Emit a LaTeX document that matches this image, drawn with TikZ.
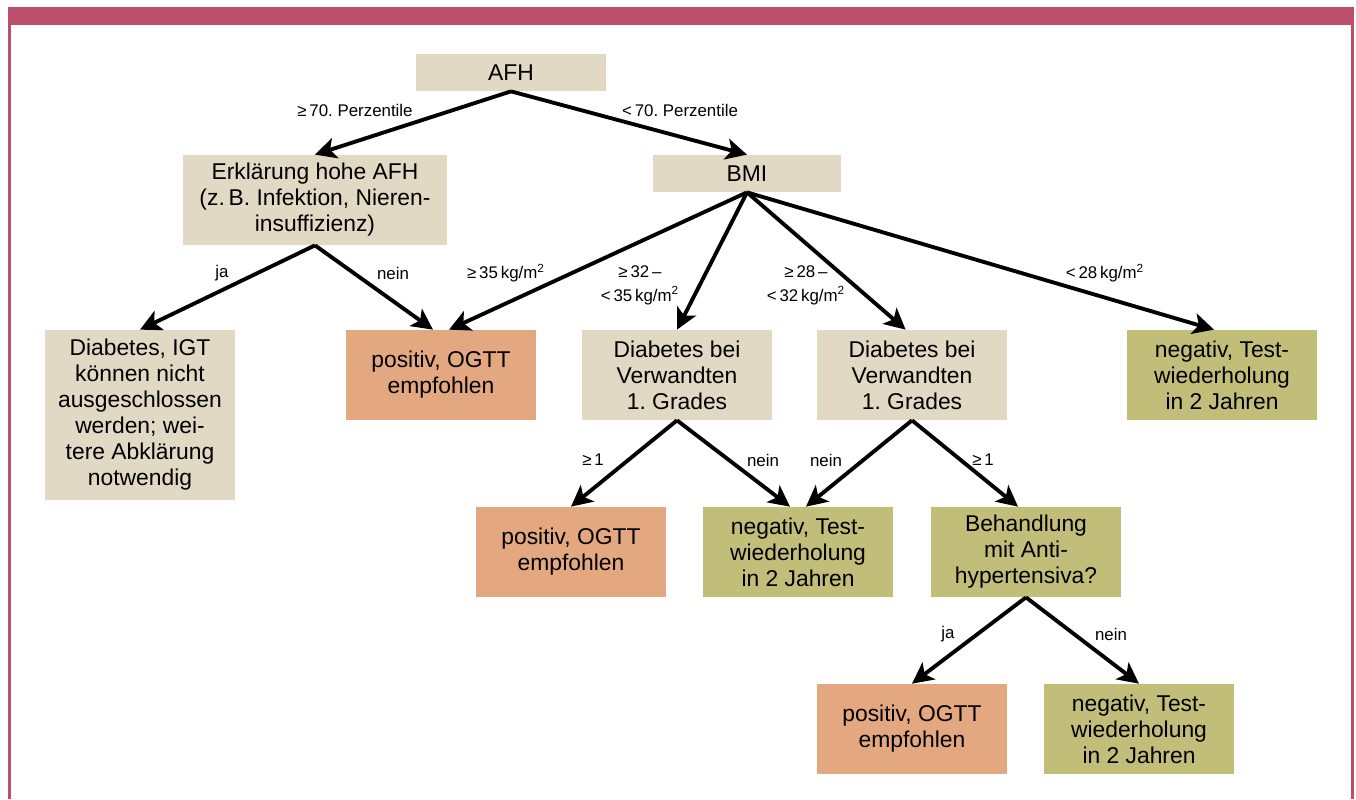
\documentclass[tikz,border=0pt]{standalone}
\usepackage{fontspec}
\setmainfont{Liberation Sans}
\usetikzlibrary{arrows.meta}
\definecolor{rahmen}{RGB}{188,79,107}
\definecolor{beige}{RGB}{226,217,196}
\definecolor{lachs}{RGB}{228,168,128}
\definecolor{oliv}{RGB}{194,190,122}
\tikzset{
  box/.style={align=center, inner sep=2pt, minimum width=3.8cm, minimum height=1.8cm,
    font=\fontsize{13}{14.8}\selectfont},
  frage/.style={box, fill=beige},
  posbox/.style={box, fill=lachs},
  negbox/.style={box, fill=oliv},
  lab/.style={font=\fontsize{9.6}{13.5}\selectfont, align=center, inner sep=1pt},
  pfeil/.style={line width=2.2pt, -{Stealth[length=12pt,width=12pt,inset=3pt]}}
}
\begin{document}
\begin{tikzpicture}[x=0.02cm,y=-0.02cm]
  \useasboundingbox (0,0) rectangle (1356,799);
  % Rahmen
  \fill[rahmen] (8,7) rectangle (1354,25);
  \fill[rahmen] (8,25) rectangle (11,799);
  \fill[rahmen] (1351,25) rectangle (1354,799);

  \node[frage, minimum height=0.74cm] (afh) at (511,72.5) {AFH};
  \node[frage, minimum width=5.28cm] (erk) at (315,200) {Erklärung hohe AFH\\(z.\,B. Infektion, Nieren-\\insuffizienz)};
  \node[frage, minimum width=3.76cm, minimum height=0.74cm] (bmi) at (747,173.5) {BMI};

  \node[frage, minimum height=3.4cm] (igt) at (140,415) {Diabetes, IGT\\können nicht\\ausgeschlossen\\werden; wei-\\tere Abklärung\\notwendig};
  \node[posbox] (pos1) at (441,375) {positiv, OGTT\\empfohlen};
  \node[frage] (dia1) at (677,375) {Diabetes bei\\Verwandten\\1.\ Grades};
  \node[frage] (dia2) at (912,375) {Diabetes bei\\Verwandten\\1.\ Grades};
  \node[negbox] (neg1) at (1222,375) {negativ, Test-\\wiederholung\\in 2 Jahren};

  \node[posbox] (pos2) at (571,552) {positiv, OGTT\\empfohlen};
  \node[negbox] (neg2) at (798,552) {negativ, Test-\\wiederholung\\in 2 Jahren};
  \node[negbox] (beh) at (1026,552) {Behandlung\\mit Anti-\\hypertensiva?};

  \node[posbox] (pos3) at (912,729) {positiv, OGTT\\empfohlen};
  \node[negbox] (neg3) at (1139,729) {negativ, Test-\\wiederholung\\in 2 Jahren};

  \draw[pfeil] (afh.south) -- (erk.north);
  \draw[pfeil] (afh.south) -- (bmi.north);
  \draw[pfeil] (erk.south) -- (igt.north);
  \draw[pfeil] (erk.south) -- (pos1.100);
  \draw[pfeil] (bmi.south) -- (pos1.80);
  \draw[pfeil] (bmi.south) -- (dia1.north);
  \draw[pfeil] (bmi.south) -- (dia2.98);
  \draw[pfeil] (bmi.south) -- (neg1.100);
  \draw[pfeil] (dia1.south) -- (pos2.north);
  \draw[pfeil] (dia1.south) -- (neg2.100);
  \draw[pfeil] (dia2.south) -- (neg2.80);
  \draw[pfeil] (dia2.south) -- (beh.100);
  \draw[pfeil] (beh.south) -- (pos3.north);
  \draw[pfeil] (beh.south) -- (neg3.north);

  \node[lab] (l1) at (355,110) {≥\,70.\ Perzentile};
  \node[lab] (l2) at (680,110) {<\,70.\ Perzentile};
  \node[lab] (l3) at (222,273) {ja};
  \node[lab] (l4) at (393,273) {nein};
  \node[lab] (l5) at (506,273) {≥\,35\,kg/m\textsuperscript{2}};
  \node[lab] (l6) at (640,285) {≥\,32\,–\\<\,35\,kg/m\textsuperscript{2}};
  \node[lab] (l7) at (806,285) {≥\,28\,–\\<\,32\,kg/m\textsuperscript{2}};
  \node[lab] (l8) at (1105,273) {<\,28\,kg/m\textsuperscript{2}};
  \node[lab] (l9) at (593,460) {≥\,1};
  \node[lab] (l10) at (763,460) {nein};
  \node[lab] (l11) at (826,460) {nein};
  \node[lab] (l12) at (983,460) {≥\,1};
  \node[lab] (l13) at (948,634) {ja};
  \node[lab] (l14) at (1111,634) {nein};
\end{tikzpicture}
\end{document}
